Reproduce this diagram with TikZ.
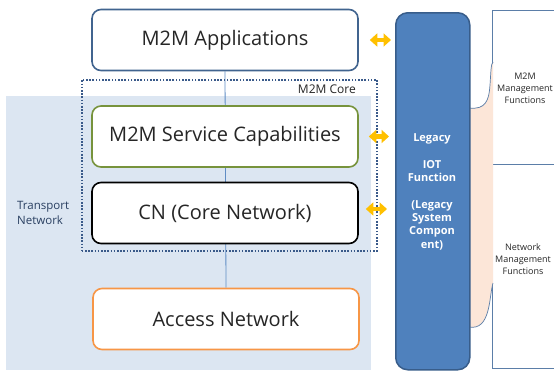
\documentclass[tikz,border=0pt]{standalone}
\usepackage{fontspec}
\setmainfont{Open Sans}
\usetikzlibrary{arrows.meta,backgrounds,calc}
\definecolor{tbg}{HTML}{DCE6F2}
\definecolor{appc}{HTML}{41648F}
\definecolor{svcc}{HTML}{77933C}
\definecolor{accc}{HTML}{F79646}
\definecolor{legfill}{HTML}{4F81BD}
\definecolor{legdraw}{HTML}{385D8A}
\definecolor{peach}{HTML}{FCE6D8}
\definecolor{arry}{HTML}{FFC000}
\definecolor{corec}{HTML}{3A5A8A}
\definecolor{rectc}{HTML}{5B7EA8}
\definecolor{linec}{HTML}{5F8CC4}
\definecolor{txtc}{HTML}{262626}
\begin{document}
\begin{tikzpicture}[x=1pt,y=-1pt,
  box/.style={draw, line width=1.6pt, rounded corners=9pt, fill=white,
    minimum width=266pt, minimum height=61pt, inner sep=0pt, text=txtc,
    font=\fontsize{20}{23}\selectfont},
  sidetext/.style={font=\fontsize{9}{12.2}\selectfont, align=center, inner sep=0pt, text=txtc},
  dbl/.style={arry, line width=4.2pt,
    {Triangle[width=13pt,length=7.5pt]}-{Triangle[width=13pt,length=7.5pt]},
    shorten <=11pt, shorten >=4pt}]
\useasboundingbox (0,0) rectangle (554,370);

% transport network background
\node[minimum width=365pt, minimum height=274pt, inner sep=0pt, anchor=north west] (transport) at (6,96) {};
\node[anchor=north west, align=left, inner sep=0pt, font=\fontsize{11.5}{15}\selectfont, text=corec!70!black] (tlabel) at (17,201) {Transport\\Network};

% M2M core dotted frame
\node[draw=corec, line width=1.6pt, dash pattern=on 1.6pt off 1.6pt, minimum width=295pt, minimum height=171pt, inner sep=0pt, anchor=north west] (core) at (81,79) {};
\node[font=\fontsize{12}{14}\selectfont, anchor=north east, inner sep=0pt, text=txtc] (corelabel) at (356,85) {M2M Core};

% main boxes
\node[box, draw=appc] (app) at (225,40) {M2M Applications};
\node[box, draw=svcc] (svc) at (225,136.5) {M2M Service Capabilities};
\node[box, draw=black] (cn) at (225,213) {CN (Core Network)};
\node[box, draw=accc] (acc) at (226,319) {Access Network};

\begin{pgfonlayer}{background}
\fill[white] (0,0) rectangle (554,370);
\fill[tbg] (transport.north west) rectangle (transport.south east);
\draw[linec, line width=0.8pt] (app.south) -- (acc.north);
\end{pgfonlayer}

% right rectangles
\node[draw=rectc, line width=0.8pt, fill=white, minimum width=80pt, minimum height=154pt, inner sep=0pt, anchor=north west] (mgmt) at (492,10) {};
\node[draw=rectc, line width=0.8pt, fill=white, minimum width=80pt, minimum height=204pt, inner sep=0pt, anchor=north west] (netm) at (492,164) {};
\node[sidetext] (mgmtlabel) at (525,88) {M2M\\Management\\Functions};
\node[sidetext] (netmlabel) at (523,259) {Network\\Management\\Functions};

% peach brace
\fill[peach] (469,108) .. controls (486,110) and (489,100) .. (490,85)
  .. controls (491,70) and (491,64) .. (493,62) -- (493,283)
  .. controls (489,296) and (491,331) .. (469,327) -- cycle;
\draw[rectc, line width=0.7pt] (469,108) .. controls (486,110) and (489,100) .. (490,85)
  .. controls (491,70) and (491,64) .. (493,62);
\draw[rectc, line width=0.7pt] (493,283) .. controls (489,296) and (491,331) .. (469,327);

% legacy column
\node[draw=legdraw, line width=1.5pt, fill=legfill, rounded corners=12pt, minimum width=74pt, minimum height=357pt, inner sep=0pt, anchor=north west] (legacy) at (395,12) {};
\node[text=white, font=\bfseries\fontsize{11}{13.3}\selectfont, align=center, inner sep=0pt] (legtext) at (432,192) {Legacy\\[13.3pt]IOT\\Function\\[13.3pt](Legacy\\System\\Compon\\ent)};

% yellow double arrows
\draw[dbl] (app.east) -- (app.east -| legacy.west);
\draw[dbl, shorten <=10pt, shorten >=6pt] (svc.east) -- (svc.east -| legacy.west);
\draw[dbl, shorten <=7pt, shorten >=8pt] (cn.east |- 0,209) -- (legacy.west |- 0,209);
\end{tikzpicture}
\end{document}
